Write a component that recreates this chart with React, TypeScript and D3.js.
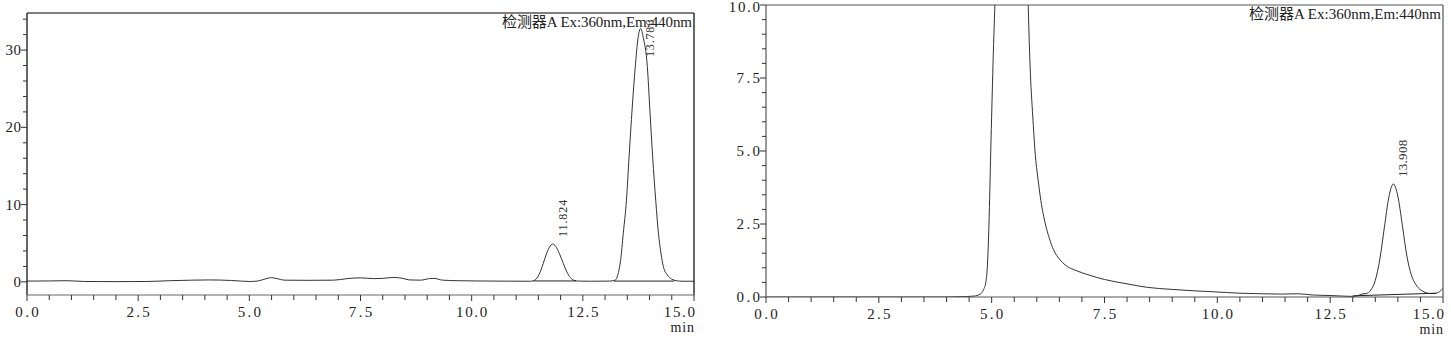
import React from "react";
import * as d3 from "d3";

// left chromatogram (detector A, sample 1)
const leftTime = [0, 0.5, 0.9, 1.3, 2.0, 2.7, 3.2, 3.7, 4.1, 4.6, 5.0, 5.2, 5.4, 5.5, 5.6, 5.8, 6.3, 6.9, 7.2, 7.5, 7.8, 8.0, 8.25, 8.45, 8.6, 8.85, 9.05, 9.15, 9.35, 9.7, 10.5, 11.3, 11.39, 11.47, 11.55, 11.61, 11.68, 11.75, 11.82, 11.89, 11.97, 12.06, 12.14, 12.22, 12.3, 12.4, 12.7, 13.1, 13.22, 13.3, 13.35, 13.41, 13.48, 13.54, 13.61, 13.68, 13.74, 13.8, 13.86, 13.95, 14.01, 14.07, 14.14, 14.2, 14.26, 14.31, 14.4, 14.5, 14.6, 14.75, 15.0];
const leftSignal = [0.1, 0.12, 0.15, 0.05, 0.03, 0.05, 0.15, 0.22, 0.25, 0.18, 0.05, 0.12, 0.45, 0.55, 0.45, 0.22, 0.2, 0.22, 0.42, 0.52, 0.42, 0.45, 0.58, 0.45, 0.25, 0.22, 0.42, 0.45, 0.22, 0.15, 0.1, 0.08, 0.15, 0.5, 1.4, 2.4, 3.6, 4.5, 4.9, 4.6, 3.7, 2.4, 1.3, 0.55, 0.2, 0.1, 0.08, 0.1, 0.2, 1.2, 2.8, 6.3, 10.5, 16.2, 22.5, 27.9, 31.5, 32.8, 31.6, 27.9, 22.0, 16.2, 10.5, 6.3, 3.6, 2.0, 0.9, 0.35, 0.15, 0.08, 0.08];
const leftBaselines = [
  [[11.39, 0.12], [12.35, 0.12]],
  [[13.2, 0.1], [14.55, 0.1]],
];
const leftPeaks = ["11.824", "13.786"];
const leftPeakTimes = [11.824, 13.786];
const leftPeakHeights = [4.9, 32.8];

// right chromatogram (detector A, sample 2)
const rightTime = [0, 1, 2, 3, 4, 4.3, 4.6, 4.75, 4.82, 4.87, 4.91, 4.94, 4.98, 5.03, 5.08, 5.12, 5.25, 5.45, 5.65, 5.76, 5.81, 5.86, 5.91, 5.96, 6.03, 6.09, 6.19, 6.28, 6.37, 6.47, 6.57, 6.68, 6.85, 7.0, 7.2, 7.5, 8.0, 8.45, 9.0, 9.5, 9.9, 10.5, 11.0, 11.4, 11.8, 12.1, 12.5, 12.8, 13.0, 13.1, 13.2, 13.3, 13.4, 13.5, 13.6, 13.7, 13.8, 13.9, 14.0, 14.1, 14.2, 14.3, 14.4, 14.5, 14.6, 14.7, 14.8, 14.9, 15.0];
const rightSignal = [0, 0, 0, 0, 0, 0.01, 0.03, 0.1, 0.25, 0.5, 1.2, 2.5, 5.0, 8.0, 10.5, 13, 25, 32, 26, 14, 10.0, 7.6, 6.2, 5.0, 4.0, 3.3, 2.5, 2.0, 1.62, 1.36, 1.18, 1.04, 0.92, 0.83, 0.73, 0.6, 0.45, 0.33, 0.26, 0.21, 0.18, 0.13, 0.11, 0.1, 0.11, 0.07, 0.05, 0.03, 0.02, 0.04, 0.1, 0.12, 0.24, 0.57, 1.29, 2.37, 3.42, 3.87, 3.45, 2.45, 1.4, 0.75, 0.42, 0.25, 0.16, 0.12, 0.12, 0.16, 0.3];
const rightBaselines = [[[13.0, 0.04], [14.85, 0.13]]];
const rightPeaks = ["13.908"];
const rightPeakTimes = [13.908];
const rightPeakHeights = [3.87];

const header = "检测器A Ex:360nm,Em:440nm";
const xTickLabels = [0, 2.5, 5, 7.5, 10, 12.5, 15];
const leftYLabels = [0, 10, 20, 30];
const rightYLabels = [0, 2.5, 5, 7.5, 10];

const FONT = "'Liberation Serif', 'Noto Sans CJK SC', serif";
const CHAR_W = 7.8; // instrument font is fixed-pitch

function Panel(props) {
  const { id, x0, x1, yTop, yBot, yDomain, time, signal, baselines, peaks, peakTimes, peakHeights,
    yLabels, yMinorStep, yFmt, boxColor, axisColor, headerY, headerLen, labelOffset, labelSize } = props;

  const x = d3.scaleLinear().domain([0, 15]).range([x0, x1]);
  const y = d3.scaleLinear().domain(yDomain).range([yBot, yTop]);
  const pts = time.map((t, i) => [t, signal[i]]);
  const line = d3.line().x(d => x(d[0])).y(d => y(d[1])).curve(d3.curveMonotoneX);

  const xMinor = d3.range(0, 15.001, 0.5);
  const yMinor = d3.range(0, yDomain[1] + 0.001, yMinorStep);
  const fx = d3.format(".1f");

  return (
    <g>
      <defs>
        <clipPath id={"clip" + id}>
          <rect x={x0} y={yTop} width={x1 - x0} height={yBot - yTop} />
        </clipPath>
      </defs>
      <path d={line(pts)} fill="none" stroke="#333" strokeWidth={1} clipPath={`url(#clip${id})`} />
      {baselines.map((b, i) => (
        <path key={i} d={d3.line().x(d => x(d[0])).y(d => y(d[1]))(b)} fill="none" stroke="#222" strokeWidth={1} />
      ))}
      {/* frame */}
      <line x1={x0} x2={x1} y1={yTop} y2={yTop} stroke={boxColor} strokeWidth={1.2} />
      <line x1={x1} x2={x1} y1={yTop} y2={yBot} stroke={boxColor} strokeWidth={1.2} />
      <line x1={x0} x2={x0} y1={yTop} y2={yBot} stroke={boxColor} strokeWidth={1.2} />
      <line x1={x0} x2={x1} y1={yBot} y2={yBot} stroke={axisColor} strokeWidth={1.2} />
      {/* x ticks */}
      {xMinor.map((t, i) => (
        <line key={i} x1={x(t)} x2={x(t)} y1={yBot} y2={yBot + (i % 5 === 0 ? 6 : 5)} stroke="#333" strokeWidth={1} />
      ))}
      {xTickLabels.map((t, i) => {
        const s = fx(t);
        const last = i === xTickLabels.length - 1;
        return (
          <text key={i} x={last ? x1 + 1 : x(t)} y={yBot + 22} fontSize={15} fontFamily={FONT}
            textAnchor={last ? "end" : "middle"} fill="#222" textLength={s.length * CHAR_W} lengthAdjust="spacing">
            {s}
          </text>
        );
      })}
      <text x={x1} y={yBot + 37} fontSize={14} fontFamily={FONT} textAnchor="end" fill="#222"
        textLength={3 * CHAR_W} lengthAdjust="spacing">min</text>
      {/* y ticks */}
      {yMinor.map((v, i) => (
        <line key={i} x1={x0 - (yLabels.includes(+v.toFixed(2)) ? 6 : 4)} x2={x0} y1={y(v)} y2={y(v)} stroke="#333" strokeWidth={1} />
      ))}
      {yLabels.map((v, i) => {
        const s = yFmt(v);
        return (
          <text key={i} x={x0 - 6} y={Math.max(y(v) + 5, 12)} fontSize={15} fontFamily={FONT} textAnchor="end" fill="#222"
            textLength={s.length * CHAR_W} lengthAdjust="spacing">
            {s}
          </text>
        );
      })}
      {peaks.map((p, i) => (
        <text key={i}
          transform={`translate(${x(peakTimes[i]) + labelOffset},${Math.max(y(peakHeights[i]) - 7, yTop + 44)}) rotate(-90)`}
          fontSize={labelSize} fontFamily={FONT} fill="#333" textLength={p.length * 6.2} lengthAdjust="spacing">{p}</text>
      ))}
      <text x={x1 - 2} y={headerY} fontSize={15} fontFamily={FONT} textAnchor="end" fill="#222"
        textLength={headerLen} lengthAdjust="spacing">{header}</text>
    </g>
  );
}

export default function App() {
  return (
    <svg width={1451} height={342} style={{ position: "absolute", left: 0, top: 0, background: "#fff" }}>
      <Panel id="L" x0={27} x1={694} yTop={13} yBot={295} yDomain={[-1.7, 34.8]}
        time={leftTime} signal={leftSignal} baselines={leftBaselines}
        peaks={leftPeaks} peakTimes={leftPeakTimes} peakHeights={leftPeakHeights}
        yLabels={leftYLabels} yMinorStep={2} yFmt={d3.format("d")}
        boxColor="#000" axisColor="#666" headerY={27} headerLen={190} labelOffset={14} labelSize={12} />
      <Panel id="R" x0={766} x1={1443} yTop={5} yBot={297} yDomain={[0, 10]}
        time={rightTime} signal={rightSignal} baselines={rightBaselines}
        peaks={rightPeaks} peakTimes={rightPeakTimes} peakHeights={rightPeakHeights}
        yLabels={rightYLabels} yMinorStep={0.5} yFmt={d3.format(".1f")}
        boxColor="#555" axisColor="#555" headerY={19} headerLen={192} labelOffset={13} labelSize={13} />
    </svg>
  );
}
